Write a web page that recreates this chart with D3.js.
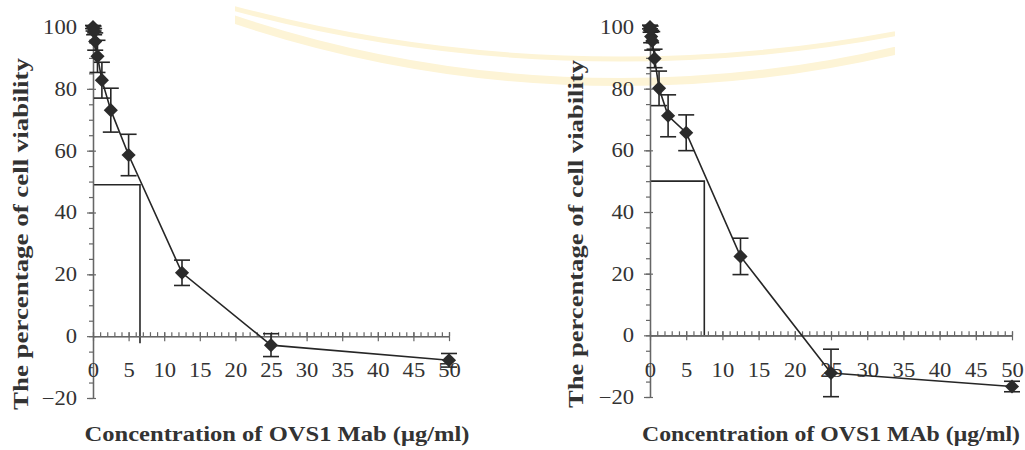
<!DOCTYPE html>
<html>
<head>
<meta charset="utf-8">
<script src="https://cdn.jsdelivr.net/npm/d3@7"></script>
<style>
  body { margin: 0; background: #fff; }
</style>
</head>
<body>
<svg id="chart" width="1025" height="450" font-family="'Liberation Serif', 'Times New Roman', Tinos, Times, serif"></svg>
<script>
// concentration of antibody (ug/ml), same dilutions in both panels
const concentrations = [0, 0.08, 0.16, 0.31, 0.63, 1.25, 2.5, 5, 12.5, 25, 50];

// left panel
const viabilityLeft = [100, 99.5, 98.5, 95.3, 90.5, 82.8, 73.1, 58.6, 20.5, -2.9, -7.8];
const errorLeft = [0.5, 0.8, 1, 2.8, 5.2, 5.8, 7.1, 6.7, 4.1, 3.7, 2.2];

// right panel
const viabilityRight = [100, 99.3, 96.9, 95.5, 89.8, 80.1, 71.2, 65.7, 25.6, -12.2, -16.6];
const errorRight = [0.6, 1, 2, 3, 3, 5.6, 6.8, 5.8, 5.9, 7.7, 1.7];

// IC50 guide lines (left, right)
const ic50X = [6.6, 7.5];
const ic50Y = [49, 50];
const ic50Bottom = [-2.3, 0];

const xMajorTicks = [0, 5, 10, 15, 20, 25, 30, 35, 40, 45, 50];
const yMajorTicks = [-20, 0, 20, 40, 60, 80, 100];
const yTitle = "The percentage of cell viability";
const xTitles = ["Concentration of OVS1 Mab (\u03bcg/ml)", "Concentration of OVS1 MAb (\u03bcg/ml)"];

const fontStack = "'Liberation Serif', 'Times New Roman', Tinos, Times, serif";
const svg = d3.select("#chart");

// faint watermark of the university seal behind the charts
svg.append("clipPath").attr("id", "wmclip")
  .append("rect").attr("x", 235).attr("y", 0).attr("width", 660).attr("height", 120);
const wm = svg.append("g")
  .attr("clip-path", "url(#wmclip)")
  .attr("fill", "none")
  .attr("stroke", "#fdf4d6");
wm.append("circle").attr("cx", 620).attr("cy", -1139).attr("r", 1221).attr("stroke-width", 8);
wm.append("circle").attr("cx", 620).attr("cy", -1435).attr("r", 1494).attr("stroke-width", 5);

const panels = [
  { x0: 93, x1: 449, y0: 398, y1: 27, values: viabilityLeft, errors: errorLeft,
    titleX: 277, titleLen: 385, yTitleX: 28, yTitleLen: 352 },
  { x0: 650, x1: 1012, y0: 397, y1: 27, values: viabilityRight, errors: errorRight,
    titleX: 831, titleLen: 378, yTitleX: 583, yTitleLen: 348 }
];

const axisColor = "#666";
const inkColor = "#262626";
const xStretch = 1.13;

function styleAxis(g) {
  g.attr("font-family", fontStack).attr("font-size", 20);
  g.selectAll(".domain").attr("stroke", axisColor).attr("stroke-width", 1.2);
  g.selectAll(".tick line").attr("stroke", axisColor).attr("stroke-width", 1.2);
  g.selectAll(".tick text").attr("fill", "#333");
}

panels.forEach(function (p, i) {
  const x = d3.scaleLinear().domain([0, 50]).range([p.x0, p.x1]);
  const y = d3.scaleLinear().domain([-20, 100]).range([p.y0, p.y1]);
  const g = svg.append("g");

  // IC50 lines
  g.append("path")
    .attr("d", d3.line()([[x(0), y(ic50Y[i])], [x(ic50X[i]), y(ic50Y[i])], [x(ic50X[i]), y(ic50Bottom[i])]]))
    .attr("fill", "none")
    .attr("stroke", inkColor)
    .attr("stroke-width", 1.6);

  // y axis: minor ticks, inner half of major ticks, labelled major ticks
  g.append("g")
    .attr("transform", "translate(" + x(0) + ",0)")
    .call(d3.axisLeft(y).tickValues(d3.range(-20, 101, 5)).tickSizeInner(4).tickSizeOuter(0).tickFormat(""))
    .call(styleAxis);
  g.append("g")
    .attr("transform", "translate(" + x(0) + ",0)")
    .call(d3.axisRight(y).tickValues(yMajorTicks).tickSizeInner(3).tickSizeOuter(0).tickFormat(""))
    .call(styleAxis);
  const yAxis = g.append("g")
    .attr("transform", "translate(" + x(0) + ",0)")
    .call(d3.axisLeft(y).tickValues(yMajorTicks).tickSizeInner(6).tickSizeOuter(0).tickPadding(10))
    .call(styleAxis);
  yAxis.selectAll(".tick text")
    .attr("x", -16 / xStretch)
    .attr("transform", "scale(" + xStretch + ",1)");

  // x axis at y = 0
  g.append("g")
    .attr("transform", "translate(0," + y(0) + ")")
    .call(d3.axisTop(x).tickValues(d3.range(0, 51, 1)).tickSizeInner(4).tickSizeOuter(0).tickFormat(""))
    .call(styleAxis);
  g.append("g")
    .attr("transform", "translate(0," + y(0) + ")")
    .call(d3.axisTop(x).tickValues(xMajorTicks).tickSizeInner(4).tickSizeOuter(0).tickFormat(""))
    .call(styleAxis);
  const xAxis = g.append("g")
    .attr("transform", "translate(0," + y(0) + ")")
    .call(d3.axisBottom(x).tickValues(xMajorTicks).tickSizeInner(5).tickSizeOuter(0).tickPadding(22))
    .call(styleAxis);
  xAxis.selectAll(".tick text").attr("transform", "scale(" + xStretch + ",1)");

  const pts = concentrations.map(function (c, k) {
    return { c: c, v: p.values[k], e: p.errors[k] };
  });

  // connecting line
  g.append("path")
    .datum(pts)
    .attr("fill", "none")
    .attr("stroke", inkColor)
    .attr("stroke-width", 1.6)
    .attr("d", d3.line().x(function (d) { return x(d.c); }).y(function (d) { return y(d.v); }));

  // error bars
  const eb = g.append("g").attr("stroke", inkColor).attr("stroke-width", 1.6);
  eb.selectAll("line.v").data(pts).enter().append("line")
    .attr("x1", function (d) { return x(d.c); })
    .attr("x2", function (d) { return x(d.c); })
    .attr("y1", function (d) { return y(d.v - d.e); })
    .attr("y2", function (d) { return y(d.v + d.e); });
  [-1, 1].forEach(function (s) {
    eb.selectAll("line.cap" + s).data(pts).enter().append("line")
      .attr("x1", function (d) { return x(d.c) - 8; })
      .attr("x2", function (d) { return x(d.c) + 8; })
      .attr("y1", function (d) { return y(d.v + s * d.e); })
      .attr("y2", function (d) { return y(d.v + s * d.e); });
  });

  // diamond markers
  g.append("g").selectAll("path").data(pts).enter().append("path")
    .attr("d", d3.symbol(d3.symbolSquare, 100))
    .attr("transform", function (d) { return "translate(" + x(d.c) + "," + y(d.v) + ") rotate(45)"; })
    .attr("fill", "#2b2b2b");

  // axis titles
  g.append("text")
    .attr("x", p.titleX)
    .attr("y", 441)
    .attr("text-anchor", "middle")
    .attr("font-family", fontStack)
    .attr("font-weight", "bold")
    .attr("font-size", 20)
    .attr("fill", "#333")
    .attr("textLength", p.titleLen)
    .attr("lengthAdjust", "spacingAndGlyphs")
    .text(xTitles[i]);

  g.append("text")
    .attr("transform", "translate(" + p.yTitleX + ",234) rotate(-90)")
    .attr("text-anchor", "middle")
    .attr("font-family", fontStack)
    .attr("font-weight", "bold")
    .attr("font-size", 20)
    .attr("fill", "#333")
    .attr("textLength", p.yTitleLen)
    .attr("lengthAdjust", "spacingAndGlyphs")
    .text(yTitle);
});
</script>
</body>
</html>
